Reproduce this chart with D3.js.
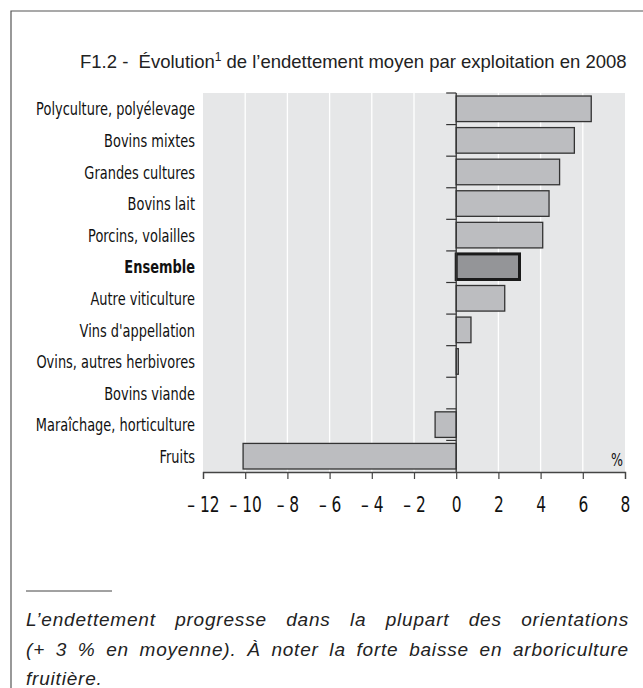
<!DOCTYPE html>
<html>
<head>
    <meta charset="utf-8">
    <title>F1.2 endettement</title>
    <script src="https://d3js.org/d3.v7.min.js"></script>
    <style>
        body { margin: 0; background: #fff; }
        text { white-space: pre; }
    </style>
</head>
<body>
    <script>
        const categories = ['Polyculture, polyélevage', 'Bovins mixtes', 'Grandes cultures', 'Bovins lait',
            'Porcins, volailles', 'Ensemble', 'Autre viticulture', "Vins d'appellation",
            'Ovins, autres herbivores', 'Bovins viande', 'Maraîchage, horticulture', 'Fruits']
        const values = [6.4, 5.6, 4.9, 4.4, 4.1, 3.0, 2.3, 0.7, 0.1, 0, -1.0, -10.1]
        const highlight = 'Ensemble'
        const xTicks = [-12, -10, -8, -6, -4, -2, 0, 2, 4, 6, 8]
        const noteLines = [
            "L’endettement progresse dans la plupart des orientations",
            "(+ 3 % en moyenne). À noter la forte baisse en arboriculture",
            "fruitière."
        ]

        const W = 643, H = 688
        const plot = { left: 203, right: 625, top: 93, bottom: 472 }
        const labelFont = "'DejaVu Sans', sans-serif"

        let svg = d3.select('body')
            .append('svg')
            .attr('width', W)
            .attr('height', H)

        // frame (top and left only)
        svg.append('path')
            .attr('d', `M11,${H} L11,11 L${W},11`)
            .attr('fill', 'none')
            .attr('stroke', '#555')
            .attr('stroke-width', 1.2)

        // title
        let title = svg.append('text')
            .attr('x', 80)
            .attr('y', 68)
            .attr('font-family', "'Liberation Sans', Arial, sans-serif")
            .attr('font-size', 18.5)
            .attr('fill', '#222')
        title.append('tspan').text('F1.2 -  Évolution')
        title.append('tspan').attr('font-size', 12).attr('dy', -7).text('1')
        title.append('tspan').attr('dy', 7).text(' de l’endettement moyen par exploitation en 2008')

        let x = d3.scaleLinear()
            .domain([-12, 8])
            .range([plot.left, plot.right])

        let y = d3.scaleBand()
            .domain(categories)
            .range([plot.top, plot.bottom])
            .paddingInner(0.19)
            .paddingOuter(0.095)

        // background
        svg.append('rect')
            .attr('x', plot.left)
            .attr('y', plot.top)
            .attr('width', plot.right - plot.left)
            .attr('height', plot.bottom - plot.top)
            .attr('fill', '#e6e7e8')

        // vertical white grid
        svg.append('g')
            .selectAll('line')
            .data(xTicks.filter(d => d !== -12 && d !== 8 && d !== 0))
            .enter()
            .append('line')
            .attr('x1', d => x(d))
            .attr('x2', d => x(d))
            .attr('y1', plot.top)
            .attr('y2', plot.bottom)
            .attr('stroke', '#fff')
            .attr('stroke-width', 1.3)

        // bars
        svg.append('g')
            .selectAll('rect')
            .data(categories)
            .enter()
            .append('rect')
            .attr('x', (d, i) => x(Math.min(0, values[i])))
            .attr('y', d => y(d))
            .attr('width', (d, i) => Math.abs(x(values[i]) - x(0)))
            .attr('height', y.bandwidth())
            .attr('fill', d => d === highlight ? '#949598' : '#bcbdc0')
            .attr('stroke', d => d === highlight ? '#1a1a1a' : '#333')
            .attr('stroke-width', d => d === highlight ? 3 : 1.3)

        // zero line with small category ticks
        let step = y.step()
        let bounds = categories.map(d => y(d) - step * y.paddingInner() / 2)
        svg.append('g')
            .selectAll('line')
            .data(bounds)
            .enter()
            .append('line')
            .attr('x1', x(0) - 10)
            .attr('x2', x(0))
            .attr('y1', d => d)
            .attr('y2', d => d)
            .attr('stroke', '#333')
            .attr('stroke-width', 1.2)

        svg.append('line')
            .attr('x1', x(0))
            .attr('x2', x(0))
            .attr('y1', plot.top)
            .attr('y2', plot.bottom)
            .attr('stroke', '#333')
            .attr('stroke-width', 1.3)

        // category labels, squeezed horizontally to look like a condensed face
        let labels = svg.append('g')
        labels.selectAll('text')
            .data(categories)
            .enter()
            .append('text')
            .attr('x', 0)
            .attr('y', d => y(d) + y.bandwidth() / 2)
            .attr('dy', '0.36em')
            .attr('text-anchor', 'end')
            .attr('font-family', labelFont)
            .attr('font-size', 18.5)
            .attr('font-weight', d => d === highlight ? 'bold' : 'normal')
            .attr('fill', '#111')
            .text(d => d)
        let squeeze = 159 / labels.select('text').node().getComputedTextLength()
        labels.attr('transform', `translate(195,0) scale(${squeeze},1)`)

        // x axis
        let xAxis = d3.axisBottom(x)
            .tickValues(xTicks)
            .tickSize(7)
            .tickPadding(17)
            .tickFormat(d => d < 0 ? '– ' + Math.abs(d) : String(d))

        let gx = svg.append('g')
            .attr('transform', `translate(0,${plot.bottom})`)
            .call(xAxis)
        gx.select('.domain').attr('stroke', '#444').attr('stroke-width', 1.3)
        gx.selectAll('.tick line').attr('stroke', '#444').attr('stroke-width', 1.2)
        gx.selectAll('.tick text')
            .attr('font-family', labelFont)
            .attr('font-size', 22)
            .attr('fill', '#111')
            .attr('transform', `scale(${squeeze},1)`)

        // unit
        svg.append('text')
            .attr('transform', `translate(623,466) scale(${squeeze},1)`)
            .attr('text-anchor', 'end')
            .attr('font-family', labelFont)
            .attr('font-size', 18)
            .attr('fill', '#111')
            .text('%')

        // footnote rule
        svg.append('line')
            .attr('x1', 26)
            .attr('x2', 112)
            .attr('y1', 591)
            .attr('y2', 591)
            .attr('stroke', '#444')
            .attr('stroke-width', 1)

        // justified note text
        let noteLeft = 26, noteRight = 629
        let note = svg.append('g')
            .attr('font-family', "'Liberation Sans', Arial, sans-serif")
            .attr('font-style', 'italic')
            .attr('font-size', 19)
            .attr('letter-spacing', 0.8)
            .attr('fill', '#222')

        noteLines.forEach((line, li) => {
            let yy = 626 + li * 29.5
            if (li === noteLines.length - 1) {
                note.append('text').attr('x', noteLeft).attr('y', yy).text(line)
                return
            }
            let words = line.split(' ')
            let nodes = words.map(w => note.append('text').attr('y', yy).text(w))
            let widths = nodes.map(n => n.node().getComputedTextLength())
            let gap = (noteRight - noteLeft - d3.sum(widths)) / (words.length - 1)
            let cx = noteLeft
            nodes.forEach((n, i) => {
                n.attr('x', cx)
                cx += widths[i] + gap
            })
        })
    </script>
</body>
</html>
